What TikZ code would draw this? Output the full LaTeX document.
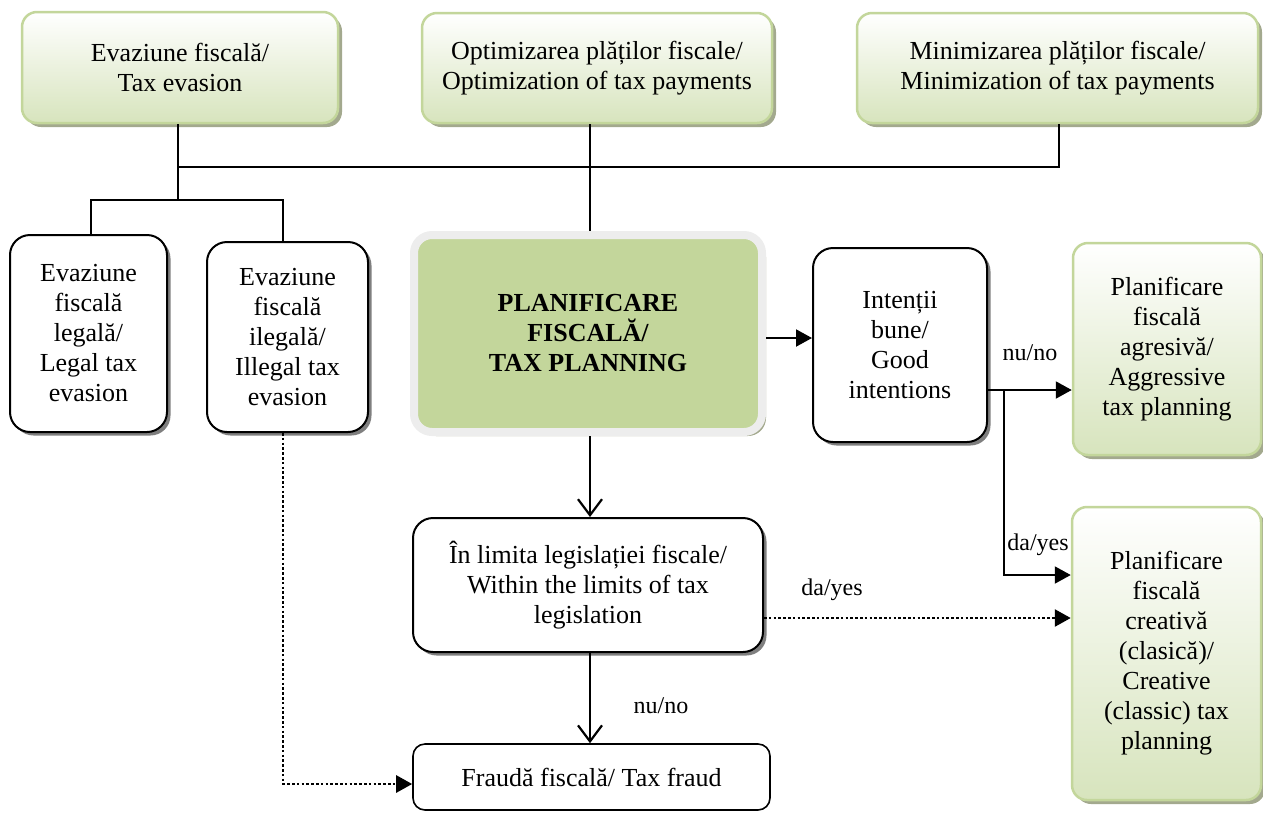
\documentclass[tikz,border=0pt]{standalone}
\usepackage{fontspec}
\setmainfont{Liberation Serif}
\newfontfamily\tnr{Liberation Serif}
\usetikzlibrary{arrows.meta,shadows}
\definecolor{gborder}{HTML}{C3D69B}
\definecolor{gbottom}{HTML}{D7E4BD}
\definecolor{gfill}{HTML}{C3D69B}
\definecolor{glow}{HTML}{EDEDED}
\definecolor{gshadow}{HTML}{A3A98E}
\definecolor{wshadow}{HTML}{7F7F7F}
\begin{document}
\begin{tikzpicture}[x=1pt,y=-1pt,
  txt/.style={font=\tnr\fontsize{26}{30}\selectfont, align=center, inner sep=0pt},
  lbl/.style={font=\tnr\fontsize{24}{28}\selectfont, inner sep=0pt},
  greenbox/.style={txt, draw=gborder, line width=2.5pt, rounded corners=15pt,
    top color=white, bottom color=gbottom,
    drop shadow={shadow xshift=4pt, shadow yshift=-4pt, fill=gshadow, opacity=1}},
  whitebox/.style={txt, draw=black, line width=2pt, fill=white, rounded corners=20pt,
    drop shadow={shadow xshift=3.5pt, shadow yshift=-3.5pt, fill=wshadow, opacity=1}},
  planbox/.style={txt, font=\tnr\fontsize{26}{30}\selectfont\bfseries, draw=glow, line width=8pt,
    fill=gfill, rounded corners=18pt,
    drop shadow={shadow xshift=4pt, shadow yshift=-4pt, fill=gshadow, opacity=1}},
  fraudbox/.style={txt, draw=black, line width=1.6pt, fill=white, rounded corners=12pt},
  conn/.style={draw=black, line width=2pt},
  dotline/.style={draw=black, line width=2.6pt, dash pattern=on 2.6pt off 2.2pt},
  tri/.tip={Triangle[length=16pt,width=17pt]},
  vee/.tip={Straight Barb[length=16pt,width=24pt,line width=2.2pt]}
]
\useasboundingbox (0,0) rectangle (1263,812);

% top row
\node[greenbox, minimum width=316pt, minimum height=111pt] (ev) at (180,67.5) {Evaziune fiscală/\\Tax evasion};
\node[greenbox, minimum width=350pt, minimum height=110pt] (opt) at (597,68) {Optimizarea plăților fiscale/\\Optimization of tax payments};
\node[greenbox, minimum width=401pt, minimum height=110pt] (min) at (1057.5,68) {Minimizarea plăților fiscale/\\Minimization of tax payments};

% middle row
\node[whitebox, minimum width=157pt, minimum height=197pt] (leg) at (88.5,333.5) {Evaziune\\fiscală\\legală/\\Legal tax\\evasion};
\node[whitebox, minimum width=161pt, minimum height=190pt] (ileg) at (287.5,337) {Evaziune\\fiscală\\ilegală/\\Illegal tax\\evasion};
\node[planbox, minimum width=348pt, minimum height=197pt] (plan) at (588,333.5) {PLANIFICARE\\FISCALĂ/\\TAX PLANNING};
\node[whitebox, minimum width=174pt, minimum height=194pt] (int) at (900,345) {Intenții\\bune/\\Good\\intentions};
\node[greenbox, minimum width=188pt, minimum height=212pt] (agr) at (1167,349) {Planificare\\fiscală\\agresivă/\\Aggressive\\tax planning};

% lower
\node[whitebox, minimum width=350pt, minimum height=134pt] (lim) at (588,585) {În limita legislației fiscale/\\Within the limits of tax\\legislation};
\node[greenbox, minimum width=189pt, minimum height=293pt] (cre) at (1166.5,653.5) {Planificare\\fiscală\\creativă\\(clasică)/\\Creative\\(classic) tax\\planning};
\node[fraudbox, minimum width=357pt, minimum height=66pt] (fr) at (591.5,777) {Fraudă fiscală/ Tax fraud};

% helper coordinates
\coordinate (j1) at (178,167);
\coordinate (j2) at (178,200);
\coordinate (j3) at (91,200);
\coordinate (j4) at (283,200);
\coordinate (j5) at (1059,167);
\coordinate (cx) at (590,0);
\coordinate (ya) at (0,338);
\coordinate (yb) at (0,390);
\coordinate (kb) at (1004,390);
\coordinate (kc) at (1004,575);
\coordinate (yd) at (0,618);
\coordinate (ke) at (283,784);

% tree connectors
\draw[conn] (ev.south -| j1) -- (j1) -- (j5) -- (min.south -| j5);
\draw[conn] (j1) -- (j2);
\draw[conn] (leg.north -| j3) -- (j3) -- (j4) -- (ileg.north -| j4);
\draw[conn] (opt.south -| cx) -- (plan.north -| cx);

% arrows
\draw[conn,-tri] (plan.east |- ya) -- (int.west |- ya);
\draw[conn,-tri] (int.east |- yb) -- (agr.west |- yb);
\draw[conn,-tri] (kb) -- (kc) -- (cre.west |- kc);
\draw[conn,-vee] (plan.south -| cx) -- (lim.north -| cx);
\draw[dotline,-tri] (lim.east |- yd) -- (cre.west |- yd);
\draw[conn,-vee] (lim.south -| cx) -- (fr.north -| cx);
\draw[dotline,-tri] (ileg.south -| ke) -- (ke) -- (fr.west |- ke);

% labels
\node[lbl] (l1) at (1030,353) {nu/no};
\node[lbl] (l2) at (1038,545) {da/yes};
\node[lbl] (l3) at (832,590) {da/yes};
\node[lbl] (l4) at (661,706) {nu/no};
\end{tikzpicture}
\end{document}
